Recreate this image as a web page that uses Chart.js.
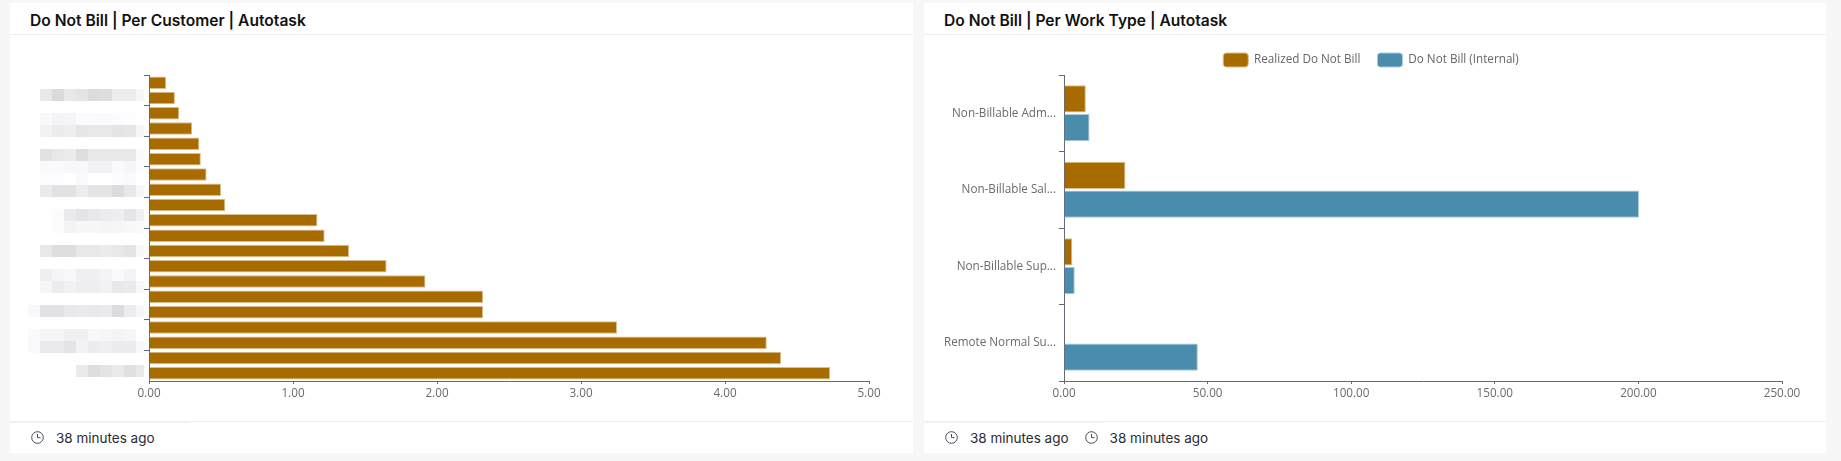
<!DOCTYPE html>
<html lang="en">
<head>
    <meta charset="UTF-8">
    <title>Do Not Bill | Autotask</title>
    <script src="https://cdn.jsdelivr.net/npm/chart.js"></script>
    <style>
        html, body { margin: 0; padding: 0; width: 1841px; height: 461px; overflow: hidden; background: #f7f7f7; }
        .card { position: absolute; top: 3px; width: 903px; height: 450px; background: #fff; font-family: Inter, sans-serif; }
        #cardLeft { left: 10px; }
        #cardRight { left: 924px; width: 902px; }
        .title { position: absolute; left: 20px; top: 7px; font-size: 15.6px; font-weight: 600; color: #111; line-height: 22px; white-space: nowrap; }
        .head-line { position: absolute; left: 0; right: 0; top: 31px; height: 1px; background: #eeeeee; }
        .foot-line { position: absolute; left: 0; right: 0; top: 418px; height: 1px; background: #eeeeee; }
        .foot-mark { position: absolute; left: 0; top: 418px; width: 180px; height: 2px; background: #f1f1f1; }
        .chart-box { position: absolute; left: 0; top: 32px; right: 0; height: 386px; }
        .foot { position: absolute; left: 21px; top: 419px; height: 31px; display: flex; align-items: center; font-size: 13.5px; color: #2b2b33; white-space: nowrap; }
        .foot svg { margin-right: 12px; }
        .foot span { margin-right: 16px; }
    </style>
</head>
<body>
    <div class="card" id="cardLeft">
        <div class="title">Do Not Bill | Per Customer | Autotask</div>
        <div class="head-line"></div>
        <div class="chart-box"><canvas id="customerChart"></canvas></div>
        <div class="foot-line"></div><div class="foot-mark"></div>
        <div class="foot">
            <svg width="13" height="13" viewBox="0 0 13 13" fill="none" stroke="#4a4a55"><circle cx="6.5" cy="6.5" r="5.8"/><path d="M6.5 3v3.7h3"/></svg>
            <span>38 minutes ago</span>
        </div>
    </div>
    <div class="card" id="cardRight">
        <div class="title">Do Not Bill | Per Work Type | Autotask</div>
        <div class="head-line"></div>
        <div class="chart-box"><canvas id="workTypeChart"></canvas></div>
        <div class="foot-line"></div><div class="foot-mark"></div>
        <div class="foot">
            <svg width="13" height="13" viewBox="0 0 13 13" fill="none" stroke="#4a4a55"><circle cx="6.5" cy="6.5" r="5.8"/><path d="M6.5 3v3.7h3"/></svg>
            <span>38 minutes ago</span>
            <svg width="13" height="13" viewBox="0 0 13 13" fill="none" stroke="#4a4a55"><circle cx="6.5" cy="6.5" r="5.8"/><path d="M6.5 3v3.7h3"/></svg>
            <span>38 minutes ago</span>
        </div>
    </div>

    <script>
        // customer names are pixelated in the source, so they stay blank here
        const customerLabels = Array(20).fill('');
        const customerValues = [0.12, 0.18, 0.21, 0.30, 0.35, 0.36, 0.40, 0.50, 0.53, 1.17, 1.22, 1.39, 1.65, 1.92, 2.32, 2.32, 3.25, 4.29, 4.39, 4.73];

        const workTypes = ['Non-Billable Adm...', 'Non-Billable Sal...', 'Non-Billable Sup...', 'Remote Normal Su...'];
        const realizedValues = [7.6, 21.4, 2.9, null];
        const internalValues = [8.9, 200.2, 3.75, 46.6];

        // grey levels of the pixelated name column, one row of cells per line
        const blurRows = [
            [0, [255, 232, 218, 232, 228, 220, 222, 236, 236, 246]],
            [2, [255, 249, 244, 245, 251, 251, 250, 252, 253, 255]],
            [3, [255, 242, 236, 238, 230, 232, 232, 228, 230, 246]],
            [5, [255, 226, 232, 236, 222, 232, 232, 232, 232, 250]],
            [6, [255, 250, 250, 248, 248, 242, 242, 250, 246, 252]],
            [7, [255, 253, 253, 255, 250, 255, 255, 252, 250, 255]],
            [8, [255, 234, 226, 226, 236, 228, 228, 220, 232, 246]],
            [10, [255, 255, 252, 234, 228, 232, 236, 238, 230, 240]],
            [11, [255, 255, 252, 244, 247, 247, 245, 246, 248, 250]],
            [13, [255, 232, 222, 222, 232, 232, 236, 232, 228, 248]],
            [15, [255, 240, 245, 248, 240, 240, 244, 250, 244, 255]],
            [16, [255, 246, 236, 242, 238, 238, 242, 232, 234, 248]],
            [18, [249, 226, 226, 232, 234, 232, 234, 220, 236, 246]],
            [20, [250, 245, 245, 240, 240, 248, 246, 244, 246, 255]],
            [21, [250, 234, 234, 228, 242, 236, 240, 236, 236, 248]],
            [23, [255, 255, 255, 255, 234, 222, 228, 234, 224, 232]]
        ];

        const brown = '#a86b00';
        const brownEdge = '#d9bd8c';
        const blue = '#4a8cac';
        const blueEdge = '#a9cbdb';
        const axisColor = '#66667a';
        const tickFont = { family: '"Open Sans", sans-serif', size: 11.7 };

        const blurPlugin = {
            id: 'blurNames',
            beforeDraw(chart) {
                const ctx = chart.ctx;
                const top = chart.scales.y.top + 14;
                const right = chart.scales.y.right - 5;
                blurRows.forEach(([row, cells]) => {
                    cells.forEach((level, i) => {
                        if (level === 255) return;
                        const w = i === cells.length - 1 ? 8 : 12;
                        const x = right - 8 - (cells.length - 1 - i) * 12;
                        ctx.fillStyle = `rgb(${level},${level},${level + 2})`;
                        ctx.fillRect(x, top + row * 12, w, 12);
                    });
                });
            }
        };

        // legend keeps wide gaps between items but must not push the plot down
        const legendFitPlugin = {
            id: 'legendFit',
            beforeInit(chart) {
                const fit = chart.legend.fit;
                chart.legend.fit = function () {
                    fit.call(this);
                    this.height = 39;
                };
            },
            afterLayout(chart) {
                chart.legend.left += 18;
                chart.legend.right += 18;
            }
        };

        function valueAxis(max, step) {
            return {
                min: 0,
                max: max,
                ticks: { stepSize: step, color: '#6b6b6b', font: tickFont, maxRotation: 0, padding: 3, callback: v => v.toFixed(2) },
                grid: { drawOnChartArea: false, color: axisColor, tickLength: 3 },
                border: { color: axisColor },
                afterFit(scale) { scale.height = 40; }
            };
        }

        new Chart(document.getElementById('customerChart'), {
            type: 'bar',
            data: {
                labels: customerLabels,
                datasets: [{
                    data: customerValues,
                    backgroundColor: brown,
                    borderColor: brownEdge,
                    borderWidth: 1,
                    barPercentage: 0.82,
                    categoryPercentage: 1
                }]
            },
            options: {
                indexAxis: 'y',
                responsive: true,
                maintainAspectRatio: false,
                animation: false,
                layout: { padding: { top: 40, right: 44 } },
                plugins: { legend: { display: false }, tooltip: { enabled: false } },
                scales: {
                    x: valueAxis(5, 1),
                    y: {
                        ticks: { autoSkip: false },
                        // only every second boundary gets a tick mark
                        grid: {
                            drawOnChartArea: false,
                            color: axisColor,
                            tickColor: c => c.index % 2 === 0 ? axisColor : 'rgba(0,0,0,0)',
                            tickLength: 5
                        },
                        border: { color: axisColor },
                        afterFit(scale) { scale.width = 139; }
                    }
                }
            },
            plugins: [blurPlugin]
        });

        new Chart(document.getElementById('workTypeChart'), {
            type: 'bar',
            data: {
                labels: workTypes,
                datasets: [{
                    label: 'Realized Do Not Bill',
                    data: realizedValues,
                    backgroundColor: brown,
                    borderColor: brownEdge,
                    borderWidth: 1,
                    barPercentage: 0.95,
                    categoryPercentage: 0.75
                }, {
                    label: 'Do Not Bill (Internal)',
                    data: internalValues,
                    backgroundColor: blue,
                    borderColor: blueEdge,
                    borderWidth: 1,
                    barPercentage: 0.95,
                    categoryPercentage: 0.75
                }]
            },
            options: {
                indexAxis: 'y',
                responsive: true,
                maintainAspectRatio: false,
                animation: false,
                layout: { padding: { top: 1, right: 44 } },
                plugins: {
                    tooltip: { enabled: false },
                    legend: {
                        position: 'top',
                        labels: {
                            boxWidth: 25,
                            boxHeight: 14,
                            padding: 17,
                            color: '#666666',
                            font: tickFont,
                            useBorderRadius: true,
                            borderRadius: 3
                        }
                    }
                },
                scales: {
                    x: valueAxis(250, 50),
                    y: {
                        ticks: { color: '#6b6b6b', font: tickFont, padding: 3 },
                        grid: { drawOnChartArea: false, color: axisColor, tickLength: 5 },
                        border: { color: axisColor },
                        afterFit(scale) { scale.width = 140; }
                    }
                }
            },
            plugins: [legendFitPlugin]
        });
    </script>
</body>
</html>
